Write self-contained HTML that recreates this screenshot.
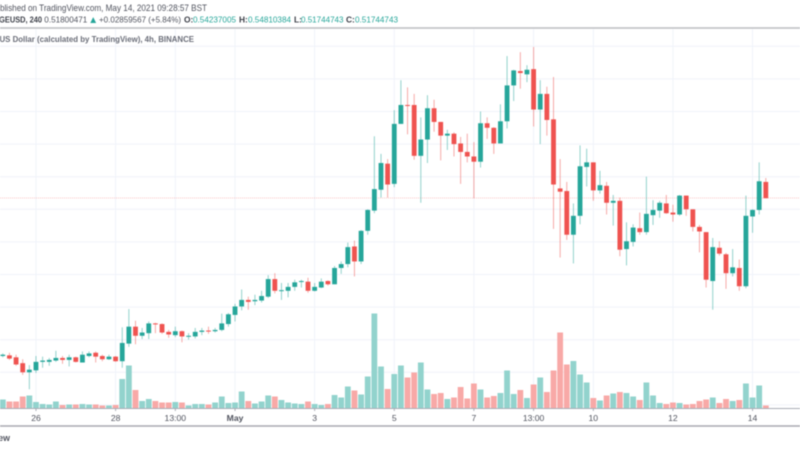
<!DOCTYPE html>
<html>
<head>
<meta charset="utf-8">
<style>
html,body{margin:0;padding:0;background:#fff;width:800px;height:450px;overflow:hidden}
svg{display:block;filter:blur(0.45px)}
text{font-family:"Liberation Sans",sans-serif}
</style>
</head>
<body>
<svg id="chart" width="800" height="450" viewBox="0 0 800 450" xmlns="http://www.w3.org/2000/svg">
  <rect x="0" y="0" width="800" height="450" fill="#ffffff"/>
  <g id="grid"></g>
  <g id="volumes"></g>
  <line id="lastPriceLine" x1="0" x2="800" stroke="#ef5350" stroke-opacity="0.32" stroke-width="1" stroke-dasharray="1 1"/>
  <g id="candles"></g>
  <line x1="0" x2="800" y1="408.5" y2="408.5" stroke="#a9acb5" stroke-width="1"/>
  <g id="ticks"></g>
  <line x1="0" x2="800" y1="28" y2="28" stroke="#bcbdc2" stroke-width="1.6"/>
  <line x1="0" x2="800" y1="426" y2="426" stroke="#a9a9b0" stroke-width="1.4"/>

  <text x="-10" y="11" font-size="8.8" fill="#50535e" textLength="217" lengthAdjust="spacingAndGlyphs">Published on TradingView.com, May 14, 2021 09:28:57 BST</text>
  <text x="-12" y="22.5" font-size="8.4" font-weight="bold" fill="#3c3f48" textLength="54" lengthAdjust="spacingAndGlyphs">DOGEUSD, 240</text>
  <text x="44.3" y="22.5" font-size="8.4" fill="#50535e" textLength="43" lengthAdjust="spacingAndGlyphs">0.51800471</text>
  <text x="88.2" y="23" font-size="10" fill="#26a69a">▲</text>
  <text x="99" y="22.5" font-size="8.4" fill="#50535e" textLength="82" lengthAdjust="spacingAndGlyphs">+0.02859567 (+5.84%)</text>
  <text x="184" y="22.5" font-size="8.4" font-weight="bold" fill="#3c3f48">O:</text>
  <text x="193" y="22.5" font-size="8.4" fill="#26a69a" textLength="43" lengthAdjust="spacingAndGlyphs">0.54237005</text>
  <text x="239" y="22.5" font-size="8.4" font-weight="bold" fill="#3c3f48">H:</text>
  <text x="248" y="22.5" font-size="8.4" fill="#26a69a" textLength="43" lengthAdjust="spacingAndGlyphs">0.54810384</text>
  <text x="294" y="22.5" font-size="8.4" font-weight="bold" fill="#3c3f48">L:</text>
  <text x="301" y="22.5" font-size="8.4" fill="#26a69a" textLength="42.5" lengthAdjust="spacingAndGlyphs">0.51744743</text>
  <text x="346" y="22.5" font-size="8.4" font-weight="bold" fill="#3c3f48">C:</text>
  <text x="355" y="22.5" font-size="8.4" fill="#26a69a" textLength="43" lengthAdjust="spacingAndGlyphs">0.51744743</text>
  <text x="-0.5" y="42" font-size="8.6" font-weight="bold" fill="#6a6d78" textLength="194.5" lengthAdjust="spacingAndGlyphs">US Dollar (calculated by TradingView), 4h, BINANCE</text>
  <text x="10" y="441" font-size="8.8" font-weight="bold" fill="#50535e" text-anchor="end">TradingView</text>
</svg>
<script>
const open_ = [.275,.276,.273,.264,.250,.253,.266,.266,.268,.272,.269,.273,.265,.275,.280,.275,.270,.274,.267,.294,.320,.306,.310,.325,.324,.312,.307,.313,.305,.305,.312,.314,.313,.315,.324,.338,.351,.361,.359,.360,.366,.393,.375,.375,.381,.389,.389,.375,.380,.390,.385,.410,.416,.443,.420,.467,.498,.530,.570,.539,.631,.660,.660,.582,.607,.655,.634,.613,.616,.601,.588,.581,.573,.632,.625,.601,.635,.690,.712,.707,.715,.653,.677,.638,.532,.528,.461,.490,.565,.572,.529,.536,.510,.513,.439,.450,.471,.465,.491,.498,.509,.495,.492,.521,.500,.473,.465,.390,.441,.431,.402,.410,.382,.489,.499,.542];
const high = [.279,.280,.277,.270,.261,.275,.274,.272,.283,.275,.277,.274,.282,.282,.282,.277,.277,.275,.319,.347,.329,.318,.328,.326,.325,.315,.320,.314,.310,.318,.318,.320,.318,.340,.341,.355,.377,.366,.369,.375,.399,.402,.387,.387,.392,.392,.395,.387,.394,.391,.413,.420,.449,.452,.468,.500,.612,.585,.577,.652,.698,.687,.677,.641,.675,.668,.634,.622,.618,.611,.616,.603,.650,.641,.626,.661,.735,.714,.741,.721,.749,.698,.688,.703,.577,.542,.509,.598,.593,.572,.559,.542,.522,.518,.480,.477,.495,.550,.514,.513,.522,.507,.522,.521,.500,.476,.465,.456,.451,.433,.439,.423,.521,.500,.572,.548];
const low = [.273,.269,.260,.246,.224,.249,.257,.260,.266,.263,.259,.265,.265,.273,.265,.267,.269,.266,.257,.289,.293,.301,.301,.310,.309,.303,.304,.296,.300,.302,.307,.309,.311,.313,.320,.328,.345,.346,.353,.357,.364,.371,.361,.365,.375,.380,.372,.374,.379,.383,.385,.401,.411,.397,.416,.461,.494,.518,.518,.534,.631,.615,.576,.510,.571,.619,.575,.591,.581,.539,.572,.517,.564,.608,.585,.601,.624,.666,.685,.695,.627,.600,.613,.470,.426,.453,.417,.477,.535,.513,.524,.492,.475,.428,.414,.443,.461,.461,.476,.487,.493,.481,.490,.490,.466,.434,.380,.346,.429,.378,.397,.375,.379,.464,.492,.517];
const close_ = [.277,.271,.262,.250,.254,.266,.268,.269,.272,.269,.273,.266,.277,.279,.274,.270,.274,.267,.295,.320,.306,.311,.325,.324,.311,.308,.313,.305,.306,.312,.314,.313,.315,.325,.339,.351,.361,.358,.361,.367,.393,.375,.376,.381,.388,.390,.375,.381,.389,.385,.410,.416,.442,.420,.467,.499,.531,.571,.538,.631,.660,.659,.582,.607,.655,.634,.613,.616,.600,.588,.581,.573,.632,.625,.601,.635,.690,.713,.709,.714,.653,.677,.637,.538,.527,.461,.490,.566,.572,.529,.537,.510,.513,.438,.451,.472,.465,.493,.499,.510,.494,.492,.521,.500,.473,.466,.392,.442,.432,.402,.411,.382,.490,.499,.543,.517];
const volume = [18,14,14,24,26,13,9,8,14,7,8,8,9,8,8,6,6,7,59,86,37,15,19,15,12,12,13,12,6,9,9,8,12,24,11,12,34,15,10,14,26,24,17,12,10,9,14,9,7,9,27,22,44,36,28,64,190,84,39,69,86,62,72,92,38,29,31,19,22,43,20,50,38,22,25,31,76,29,37,21,48,62,33,76,152,88,95,68,52,21,16,26,30,33,31,24,17,52,26,11,9,12,11,8,9,15,18,22,11,19,15,17,50,22,46,6];
const priceGridValues = [0.75,0.70,0.65,0.60,0.55,0.50,0.45,0.40,0.35,0.30,0.25,0.20];
const timeTickBars = [5,17,26,35,47,59,71,80,89,101,113];
const timeTickLabels = ["26","28","13:00","May","3","5","7","13:00","10","12","14"];
const lastPrice = 0.5174;

const NS = "http://www.w3.org/2000/svg";
const GREEN = "#26a69a", RED = "#ef5350";
const xOf = i => 2.8 + 6.635 * i;
const yOf = p => 209.3 - (p - 0.5) * 652;
const vH = v => v * 0.5;
const VOL_BASE = 408.5;

function mk(tag, attrs, parent){
  const el = document.createElementNS(NS, tag);
  for (const k in attrs) el.setAttribute(k, attrs[k]);
  parent.appendChild(el);
  return el;
}

const gridG = document.getElementById("grid");
priceGridValues.forEach(p => {
  const el = mk("line", {x1:0, x2:800, y1:yOf(p), y2:yOf(p), stroke:"#f0f3fa", "stroke-width":1}, gridG);
  
  
});
timeTickBars.forEach(i => {
  const el = mk("line", {x1:xOf(i), x2:xOf(i), y1:29, y2:408, stroke:"#f0f3fa", "stroke-width":1}, gridG);
  
  
});

const priceLine = document.getElementById("lastPriceLine");
priceLine.setAttribute("y1", yOf(lastPrice));
priceLine.setAttribute("y2", yOf(lastPrice));

const volG = document.getElementById("volumes");
volume.forEach((v, i) => {
  const up = close_[i] >= open_[i];
  const h = vH(v);
  const el = mk("rect", {x:xOf(i)-2.9, y:VOL_BASE-h, width:5.8, height:h, fill:up?"#92d3cd":"#f8a9a7"}, volG);
  
  
});

const candleG = document.getElementById("candles");
open_.forEach((o, i) => {
  const c = close_[i];
  const up = c >= o;
  const col = up ? GREEN : RED;
  const g = mk("g", {}, candleG);
  
  
  mk("line", {x1:xOf(i), x2:xOf(i), y1:yOf(high[i]), y2:yOf(low[i]), stroke:col, "stroke-opacity":0.5, "stroke-width":1}, g);
  const top = yOf(Math.max(o, c));
  const bot = yOf(Math.min(o, c));
  mk("rect", {x:xOf(i)-2.4, y:top, width:4.8, height:Math.max(bot-top, 1), fill:col}, g);
});

const tickG = document.getElementById("ticks");
timeTickBars.forEach((b, k) => {
  const mark = mk("line", {x1:xOf(b), x2:xOf(b), y1:408.5, y2:411, stroke:"#a9acb5", "stroke-width":1}, tickG);
  
  
  const t = mk("text", {x:xOf(b), y:421, "text-anchor":"middle", "font-size":8.6, fill:"#50535e"}, tickG);
  if (timeTickLabels[k] === "May") t.setAttribute("font-weight", "bold");
  t.textContent = timeTickLabels[k];
  
  
});
</script>
</body>
</html>
